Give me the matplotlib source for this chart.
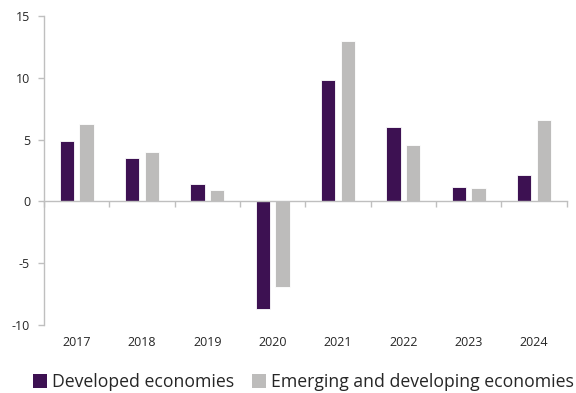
import numpy as np
import matplotlib.pyplot as plt
from matplotlib.patches import Patch
import matplotlib.transforms as mtransforms

plt.rcParams['font.family'] = ['Open Sans', 'DejaVu Sans']

# 年份与两组经济体的数值
years = ['2017', '2018', '2019', '2020', '2021', '2022', '2023', '2024']
developed = [4.9, 3.55, 1.4, -8.7, 9.85, 6.0, 1.2, 2.15]
emerging = [6.3, 4.0, 0.95, -6.9, 12.95, 4.6, 1.05, 6.6]

dev_color = '#3D1152'
em_color = '#BDBCBB'
axis_color = '#BFBFBF'
text_color = '#262626'

fig = plt.figure(figsize=(5.76, 3.93), dpi=100)
ax = fig.add_axes([0.0764, 0.173, 0.9076, 0.786])

x = np.arange(len(years))
width = 0.22
ax.bar(x - 0.15, developed, width, color=dev_color, edgecolor='white', linewidth=0.6)
ax.bar(x + 0.15, emerging, width, color=em_color, edgecolor='white', linewidth=0.6)

ax.set_xlim(-0.5, len(years) - 0.5)
ax.set_ylim(-10, 15)
ax.set_yticks([-10, -5, 0, 5, 10, 15])
ax.set_yticklabels(['-10', '-5', '0', '5', '10', '15'])

# 横轴放在零线上，刻度在类别边界
ax.spines['bottom'].set_position(('data', 0))
ax.set_xticks(np.arange(-0.5, len(years), 1.0))
ax.set_xticklabels([])
ax.tick_params(axis='x', direction='out', length=4, color=axis_color, width=1)
ax.tick_params(axis='y', direction='out', length=4, color=axis_color, width=1,
               labelsize=9, labelcolor=text_color, pad=6)
for side in ['top', 'right']:
    ax.spines[side].set_visible(False)
for side in ['left', 'bottom']:
    ax.spines[side].set_color(axis_color)
    ax.spines[side].set_linewidth(1)

# 年份标签放在图区底部
trans = mtransforms.blended_transform_factory(ax.transData, ax.transAxes)
for xi, label in zip(x, years):
    ax.text(xi, -0.035, label, transform=trans, ha='center', va='top',
            fontsize=9, color=text_color)

handles = [Patch(facecolor=dev_color, label='Developed economies'),
           Patch(facecolor=em_color, label='Emerging and developing economies')]
fig.legend(handles=handles, loc='center', bbox_to_anchor=(0.527, 0.028),
           ncol=2, frameon=False, fontsize=12.7, handlelength=0.8,
           handleheight=0.8, handletextpad=0.3, columnspacing=1.0,
           labelcolor=text_color)

fig.savefig('out.png', dpi=100)
